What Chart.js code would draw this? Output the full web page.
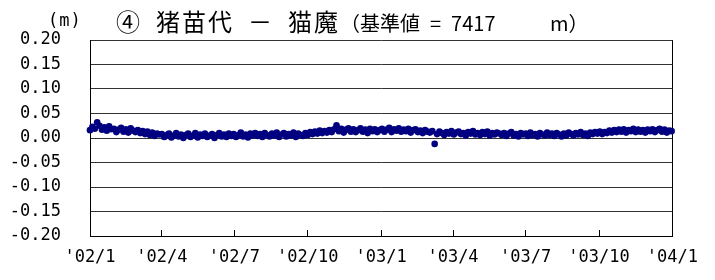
<!DOCTYPE html>
<html><head><meta charset="utf-8">
<script src="https://cdn.jsdelivr.net/npm/chart.js@4"></script>
<style>html,body{margin:0;padding:0;background:#fff}#wrap{width:715px;height:280px}</style>
</head><body><div id="wrap"><canvas id="c" width="715" height="280"></canvas></div>
<script>
const titleMain = '④\u2002猪苗代\u2002－\u2002猫魔';
const titleSub = '（基準値\u2002=\u20027417\u3000\u3000\u2002 m）';
const unitLabel = '(m)';

// sample dates: days since 2002-01-01, every 3 days
const startDay = 0;
const stepDays = 3;

const values2002 = [
  0.016, 0.023, 0.019, 0.032, 0.025, 0.017, 0.022, 0.015, 0.024, 0.018,
  0.019, 0.012, 0.017, 0.021, 0.013, 0.018, 0.011, 0.020, 0.015, 0.012,
  0.016, 0.010, 0.014, 0.008, 0.013, 0.006, 0.011, 0.004, 0.009, 0.007,
  0.008, 0.002, 0.006, 0.009, 0.001, 0.005, 0.010, 0.003, 0.007, 0.000,
  0.006, 0.009, 0.002, 0.005, 0.010, 0.001, 0.007, 0.004, 0.009, 0.002,
  0.005, 0.008, 0.000, 0.006, 0.010, 0.003, 0.007, 0.002, 0.009, 0.004,
  0.008, 0.002, 0.006, 0.011, 0.003, 0.007, 0.001, 0.009, 0.005, 0.010,
  0.004, 0.008, 0.002, 0.010, 0.006, 0.003, 0.009, 0.005, 0.011, 0.002,
  0.007, 0.010, 0.003, 0.008, 0.005, 0.011, 0.002, 0.009, 0.006, 0.004,
  0.010, 0.006, 0.012, 0.008, 0.013, 0.009, 0.015, 0.010, 0.014, 0.011,
  0.016, 0.012, 0.018, 0.026, 0.014, 0.019, 0.011, 0.017, 0.020, 0.013,
  0.018, 0.012, 0.016, 0.020, 0.013, 0.017, 0.010, 0.019, 0.014, 0.018, 0.012, 0.016
];
const values2003 = [
  0.019, 0.013, 0.017, 0.021, 0.012, 0.018, 0.015, 0.020, 0.013, 0.017,
  0.014, 0.019, 0.011, 0.016, 0.018, 0.012, 0.015, 0.010, 0.016, 0.013,
  0.011, 0.014, -0.012, 0.008, 0.013, 0.010, 0.006, 0.012, 0.009, 0.014,
  0.007, 0.011, 0.013, 0.008, 0.010, 0.005, 0.012, 0.009, 0.014, 0.007,
  0.010, 0.006, 0.012, 0.008, 0.013, 0.005, 0.010, 0.007, 0.011, 0.009,
  0.006, 0.010, 0.004, 0.009, 0.012, 0.005, 0.008, 0.003, 0.010, 0.007,
  0.009, 0.004, 0.011, 0.006, 0.008, 0.003, 0.010, 0.007, 0.005, 0.011,
  0.006, 0.009, 0.004, 0.010, 0.007, 0.003, 0.009, 0.005, 0.011, 0.008,
  0.005, 0.010, 0.007, 0.012, 0.006, 0.009, 0.004, 0.011, 0.008, 0.012,
  0.009, 0.013, 0.008, 0.012, 0.010, 0.015, 0.011, 0.016, 0.012, 0.017,
  0.013, 0.018, 0.011, 0.016, 0.014, 0.019, 0.012, 0.017, 0.013, 0.016,
  0.011, 0.017, 0.014, 0.018, 0.012, 0.016, 0.019, 0.013, 0.017, 0.011, 0.015, 0.014
];

const tickDays = [0, 90, 181, 273, 365, 455, 546, 638, 730];
const tickLabels = ["'02/1", "'02/4", "'02/7", "'02/10", "'03/1", "'03/4", "'03/7", "'03/10", "'04/1"];
const yMin = -0.2, yMax = 0.2, yStep = 0.05;

const allValues = values2002.concat(values2003);
const points = allValues.map((v, i) => ({ x: startDay + i * stepDays, y: v }));

const titlePlugin = {
  id: 'titleText',
  afterDraw(chart) {
    const ctx = chart.ctx;
    ctx.save();
    ctx.fillStyle = '#000';
    ctx.textBaseline = 'alphabetic';
    ctx.textAlign = 'left';
    ctx.font = '24px "Noto Sans CJK JP"';
    ctx.letterSpacing = '2px';
    ctx.fillText(titleMain, 116, 31);
    const w = ctx.measureText(titleMain).width;
    ctx.font = '20px "Noto Sans CJK JP"';
    ctx.letterSpacing = '0px';
    ctx.fillText(titleSub, 116 + w, 31);
    ctx.font = '17px "DejaVu Sans Mono"';
    ctx.letterSpacing = '1px';
    ctx.fillText(unitLabel, 48, 26);
    ctx.restore();
  }
};

Chart.defaults.font.family = '"DejaVu Sans Mono"';
Chart.defaults.font.size = 17;
Chart.defaults.color = '#000';

new Chart(document.getElementById('c'), {
  type: 'scatter',
  data: { datasets: [{
    data: points,
    pointRadius: 3.3,
    pointHoverRadius: 3.3,
    pointBackgroundColor: '#000080',
    pointBorderWidth: 0,
    showLine: false,
    clip: false
  }]},
  options: {
    responsive: false,
    animation: false,
    events: [],
    layout: { padding: { top: 40, right: 37, left: 0, bottom: 0 } },
    plugins: { legend: { display: false }, tooltip: { enabled: false }, title: { display: false } },
    scales: {
      x: {
        type: 'linear', min: tickDays[0], max: tickDays[tickDays.length - 1],
        afterBuildTicks: s => { s.ticks = tickDays.map(v => ({ value: v })); },
        ticks: { callback: (v, i) => tickLabels[i], padding: 17, maxRotation: 0, autoSkip: false, color: '#000' },
        grid: {
          drawOnChartArea: true,
          color: c => (c.tick && c.tick.value === tickDays[tickDays.length - 1]) ? '#000' : 'rgba(0,0,0,0)',
          tickColor: '#000', tickLength: -6, lineWidth: 1
        },
        border: { color: '#000', width: 1 },
        afterFit: s => { s.height = 44; }
      },
      y: {
        min: yMin, max: yMax,
        ticks: { stepSize: yStep, padding: 29, color: '#000',
          callback: v => (Math.abs(v) < 1e-9 ? 0 : v).toFixed(2) },
        grid: { color: '#333', drawTicks: false, lineWidth: 1 },
        border: { color: '#000', width: 1 },
        afterFit: s => { s.width = 90; }
      }
    }
  },
  plugins: [titlePlugin]
});
</script>
</body></html>
